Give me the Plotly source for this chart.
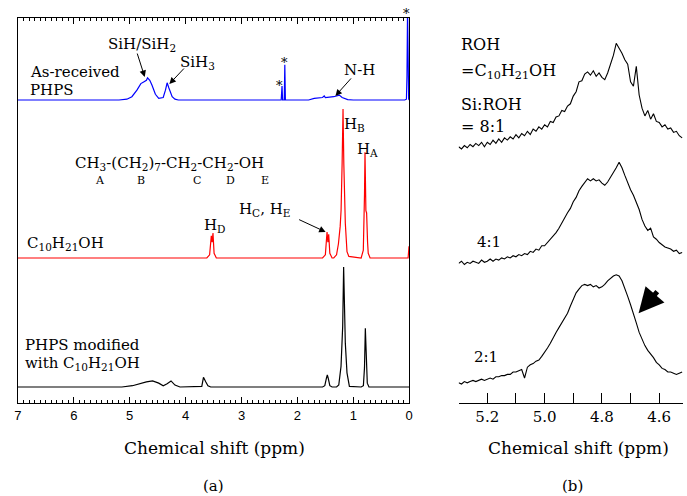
import plotly.graph_objects as go

# ---------------- Panel (a) data: chemical shift (ppm) and relative intensity ----------------
PHPS_PPM = [7.0, 5.19, 5.05, 4.96, 4.87, 4.80, 4.75, 4.70, 4.68, 4.64, 4.60, 4.54, 4.48, 4.40,
            4.36, 4.33, 4.30, 4.24, 4.19, 4.13, 2.29, 2.275, 2.265, 2.235, 2.225, 2.215, 2.20,
            1.80, 1.70, 1.55, 1.52, 1.50, 1.35, 1.25, 1.20, 1.10, 1.00,
            0.08, 0.05, 0.04, 0.03, 0.02, 0.01, 0.0]
PHPS_INT = [0.0, 0.0, 0.01, 0.04, 0.12, 0.20, 0.22, 0.24, 0.27, 0.24, 0.18, 0.07, 0.02, 0.03,
            0.12, 0.21, 0.15, 0.04, 0.01, 0.0, 0.0, 0.17, 0.0, 0.0, 0.43, 0.0, 0.0,
            0.0, 0.02, 0.03, 0.05, 0.03, 0.04, 0.06, 0.03, 0.005, 0.0,
            0.0, 0.01, 0.3, 1.1, 0.3, 0.01, 0.0]

DEC_PPM = [7.0, 3.62, 3.57, 3.54, 3.525, 3.51, 3.49, 3.45,
           1.55, 1.50, 1.47, 1.455, 1.44, 1.42, 1.38,
           1.35, 1.30, 1.266, 1.235, 1.219, 1.20, 1.184, 1.17, 1.143, 1.113, 1.08,
           0.86, 0.821, 0.80, 0.791, 0.775, 0.762, 0.745, 0.733, 0.70,
           0.02, 0.005, 0.0]
DEC_INT = [0.0, 0.0, 0.02, 0.14, 0.10, 0.158, 0.03, 0.0,
           0.0, 0.02, 0.165, 0.10, 0.15, 0.03, 0.0,
           0.0, 0.02, 0.09, 0.20, 0.30, 0.60, 0.943, 0.60, 0.22, 0.04, 0.01,
           0.0, 0.05, 0.40, 0.67, 0.30, 0.285, 0.10, 0.03, 0.0,
           0.0, 0.07, 0.07]

MOD_PPM = [7.0, 5.14, 4.95, 4.80, 4.70, 4.59, 4.48, 4.40, 4.33, 4.26, 4.19, 4.10,
           3.75, 3.71, 3.68, 3.66, 3.64, 3.60, 3.55,
           1.55, 1.51, 1.48, 1.465, 1.45, 1.42, 1.38,
           1.30, 1.26, 1.22, 1.19, 1.173, 1.143, 1.113, 1.07,
           0.86, 0.82, 0.80, 0.785, 0.775, 0.765, 0.75, 0.72, 0.0]
MOD_INT = [0.0, 0.0, 0.01, 0.03, 0.04, 0.047, 0.03, 0.01, 0.025, 0.047, 0.015, 0.0,
           0.0, 0.005, 0.075, 0.05, 0.04, 0.01, 0.0,
           0.0, 0.01, 0.07, 0.093, 0.07, 0.01, 0.0,
           0.0, 0.015, 0.16, 0.47, 0.93, 0.34, 0.11, 0.005,
           0.0, 0.01, 0.15, 0.455, 0.30, 0.21, 0.03, 0.0, 0.0]

# ---------------- Panel (b) data ----------------
PPM_B = [5.30, 5.29, 5.28, 5.27, 5.26, 5.25, 5.24, 5.23, 5.22, 5.21,
         5.20, 5.19, 5.18, 5.17, 5.16, 5.15, 5.14, 5.13, 5.12, 5.11,
         5.10, 5.09, 5.08, 5.07, 5.06, 5.05, 5.04, 5.03, 5.02, 5.01,
         5.00, 4.99, 4.98, 4.97, 4.96, 4.95, 4.94, 4.93, 4.92, 4.91,
         4.90, 4.89, 4.88, 4.87, 4.86, 4.85, 4.84, 4.83, 4.82, 4.81,
         4.80, 4.79, 4.78, 4.77, 4.76, 4.75, 4.74, 4.73, 4.72, 4.71,
         4.70, 4.69, 4.68, 4.67, 4.66, 4.65, 4.64, 4.63, 4.62, 4.61,
         4.60, 4.59, 4.58, 4.57, 4.56, 4.55, 4.54, 4.53, 4.52]
INT_8 = [0.03, 0.01, 0.04, 0.02, 0.05, 0.03, 0.06, 0.04, 0.07, 0.03,
         0.07, 0.05, 0.09, 0.06, 0.10, 0.07, 0.11, 0.09, 0.12, 0.10,
         0.14, 0.11, 0.15, 0.13, 0.17, 0.14, 0.19, 0.17, 0.21, 0.19,
         0.23, 0.21, 0.26, 0.25, 0.30, 0.31, 0.36, 0.35, 0.40, 0.42,
         0.49, 0.53, 0.62, 0.63, 0.69, 0.71, 0.68, 0.72, 0.67, 0.70,
         0.66, 0.64, 0.70, 0.78, 0.86, 0.97, 0.93, 0.88, 0.82, 0.78,
         0.62, 0.58, 0.76, 0.50, 0.38, 0.31, 0.36, 0.28, 0.33, 0.26,
         0.25, 0.21, 0.23, 0.19, 0.20, 0.16, 0.17, 0.13, 0.11]
INT_4 = [0.06, 0.08, 0.05, 0.07, 0.06, 0.08, 0.07, 0.06, 0.09, 0.07,
         0.08, 0.10, 0.08, 0.10, 0.09, 0.11, 0.10, 0.12, 0.11, 0.13,
         0.12, 0.14, 0.13, 0.15, 0.14, 0.17, 0.16, 0.19, 0.18, 0.22,
         0.22, 0.25, 0.27, 0.31, 0.34, 0.38, 0.43, 0.47, 0.52, 0.56,
         0.62, 0.66, 0.72, 0.76, 0.79, 0.83, 0.81, 0.83, 0.81, 0.82,
         0.79, 0.77, 0.80, 0.84, 0.88, 0.93, 0.98, 0.93, 0.86, 0.79,
         0.73, 0.68, 0.62, 0.55, 0.46, 0.40, 0.36, 0.38, 0.30, 0.28,
         0.25, 0.23, 0.21, 0.20, 0.19, 0.17, 0.18, 0.15, 0.16]
INT_2 = [0.06, 0.05, 0.07, 0.06, 0.07, 0.08, 0.07, 0.08, 0.09, 0.08,
         0.09, 0.10, 0.09, 0.11, 0.11, 0.12, 0.12, 0.13, 0.13, 0.15,
         0.15, 0.16, 0.17, 0.10, 0.19, 0.21, 0.22, 0.24, 0.25, 0.28,
         0.31, 0.35, 0.39, 0.44, 0.48, 0.52, 0.56, 0.60, 0.64, 0.70,
         0.75, 0.81, 0.84, 0.87, 0.88, 0.87, 0.88, 0.86, 0.87, 0.85,
         0.86, 0.88, 0.91, 0.93, 0.95, 0.96, 0.95, 0.91, 0.85, 0.78,
         0.71, 0.64, 0.56, 0.48, 0.42, 0.37, 0.33, 0.30, 0.27, 0.23,
         0.21, 0.18, 0.17, 0.15, 0.15, 0.14, 0.13, 0.14, 0.15]

TICKS_A = [7, 6, 5, 4, 3, 2, 1, 0]
TICKS_B = [5.3, 5.2, 5.1, 5.0, 4.9, 4.8, 4.7, 4.6]
TICKTEXT_B = ["", "5.2", "", "5.0", "", "4.8", "", "4.6"]

W, H = 687, 496
SERIF = "DejaVu Serif"


def px(x):
    return x / W


def py(y):
    return 1 - y / H


fig = go.Figure()
fig.add_trace(go.Scatter(x=[], y=[], xaxis="x", yaxis="y4", hoverinfo="skip"))
fig.add_trace(go.Scatter(x=PHPS_PPM, y=PHPS_INT, xaxis="x", yaxis="y", mode="lines",
                         line=dict(color="#0000ff", width=1.2)))
fig.add_trace(go.Scatter(x=DEC_PPM, y=DEC_INT, xaxis="x", yaxis="y2", mode="lines",
                         line=dict(color="#ff0000", width=1.2)))
fig.add_trace(go.Scatter(x=MOD_PPM, y=MOD_INT, xaxis="x", yaxis="y3", mode="lines",
                         line=dict(color="black", width=1.2)))
fig.add_trace(go.Scatter(x=PPM_B, y=INT_8, xaxis="x5", yaxis="y6", mode="lines",
                         line=dict(color="black", width=1.1)))
fig.add_trace(go.Scatter(x=PPM_B, y=INT_4, xaxis="x5", yaxis="y7", mode="lines",
                         line=dict(color="black", width=1.1)))
fig.add_trace(go.Scatter(x=PPM_B, y=INT_2, xaxis="x5", yaxis="y8", mode="lines",
                         line=dict(color="black", width=1.1)))

hidden = dict(visible=False, fixedrange=True)

fig.update_layout(
    width=W, height=H, margin=dict(l=0, r=0, t=0, b=0),
    paper_bgcolor="white", plot_bgcolor="rgba(0,0,0,0)", showlegend=False,
    xaxis=dict(domain=[px(14), px(410)], range=[7, 0], anchor="y4",
               showline=True, linecolor="black", linewidth=1, mirror="ticks",
               ticks="inside", ticklen=6, tickcolor="black", tickvals=TICKS_A,
               tickfont=dict(family="Liberation Sans", size=13, color="black"),
               minor=dict(dtick=0.1, ticks="inside", ticklen=3, tickcolor="black"),
               showgrid=False, zeroline=False),
    yaxis4=dict(domain=[py(403), py(18)], range=[0, 1], anchor="x",
                showline=True, linecolor="black", linewidth=1, mirror=True,
                ticks="", showticklabels=False, showgrid=False, zeroline=False),
    yaxis=dict(domain=[py(104), py(18)], range=[-4 / 82, 1], anchor="x", **hidden),
    yaxis2=dict(domain=[py(262), py(100)], range=[-4 / 158, 1], anchor="x", **hidden),
    yaxis3=dict(domain=[py(391), py(258)], range=[-4 / 129, 1], anchor="x", **hidden),
    xaxis5=dict(domain=[px(460), 1.0], range=[5.3, 4.517], anchor="free", position=py(403),
                showline=True, linecolor="black", linewidth=1,
                ticks="inside", ticklen=10, tickcolor="black",
                tickvals=TICKS_B, ticktext=TICKTEXT_B,
                tickfont=dict(family=SERIF, size=15, color="black"),
                showgrid=False, zeroline=False),
    yaxis6=dict(domain=[py(160), py(30)], range=[-10 / 110, 1 + 10 / 110], anchor="x5", **hidden),
    yaxis7=dict(domain=[py(280), py(150)], range=[-10 / 110, 1 + 10 / 110], anchor="x5", **hidden),
    yaxis8=dict(domain=[py(398), py(262)], range=[-8 / 120, 1 + 8 / 120], anchor="x5", **hidden),
)

ann = []


def text(t, x, y, size=15, xanchor="left", family=SERIF):
    ann.append(dict(text=t, x=px(x), y=py(y), xref="paper", yref="paper", showarrow=False,
                    xanchor=xanchor, yanchor="middle",
                    font=dict(family=family, size=size, color="black")))


def arrow(x, y, xr, yr, ax, ay, width=1.0, size=1.3):
    ann.append(dict(text="", x=x, y=y, xref=xr, yref=yr, ax=ax, ay=ay, showarrow=True,
                    arrowhead=2, arrowwidth=width, arrowsize=size, arrowcolor="black"))


# panel (a) labels
text("As-received", 24, 72)
text("PHPS", 24, 90)
text("SiH/SiH<sub>2</sub>", 140, 45, xanchor="center")
text("SiH<sub>3</sub>", 196, 62, xanchor="center")
text("*", 279, 86, size=13, xanchor="center")
text("*", 284, 62, size=13, xanchor="center")
text("N-H", 360, 70, xanchor="center")
text("*", 407, 14, size=13, xanchor="center")
text("H<sub>B</sub>", 342, 124)
text("H<sub>A</sub>", 355, 149)
text("CH<sub>3</sub>-(CH<sub>2</sub>)<sub>7</sub>-CH<sub>2</sub>-CH<sub>2</sub>-OH", 167, 163, xanchor="center")
for lab, xx in zip(["A", "B", "C", "D", "E"], [97, 139, 195, 229, 264]):
    text(lab, xx, 180, size=11, xanchor="center")
text("H<sub>D</sub>", 200, 225)
text("H<sub>C</sub>, H<sub>E</sub>", 236, 209)
text("C<sub>10</sub>H<sub>21</sub>OH", 21, 243)
text("PHPS modified", 19, 345)
text("with C<sub>10</sub>H<sub>21</sub>OH", 19, 363)
text("Chemical shift (ppm)", 213, 448, size=17, xanchor="center")
text("(a)", 212, 486, size=15, xanchor="center")

# panel (b) labels
text("ROH", 460, 45, size=16)
text("=C<sub>10</sub>H<sub>21</sub>OH", 460, 72, size=16)
text("Si:ROH", 460, 104, size=16)
text("= 8:1", 460, 126, size=16)
text("4:1", 477, 242, size=15)
text("2:1", 474, 357, size=15)
text("Chemical shift (ppm)", 581, 448, size=17, xanchor="center")
text("(b)", 575, 486, size=15, xanchor="center")

# arrows
arrow(4.73, 0.28, "x", "y", -8, -25)
arrow(4.29, 0.195, "x", "y", 16, -17)
arrow(1.32, 0.05, "x", "y", 17, -19)
arrow(1.495, 0.165, "x", "y2", -28, -13)
arrow(4.672, 0.64, "x5", "y8", 20, -23, width=5, size=1.0)

fig.update_layout(annotations=ann)
fig.write_html("out.html")
